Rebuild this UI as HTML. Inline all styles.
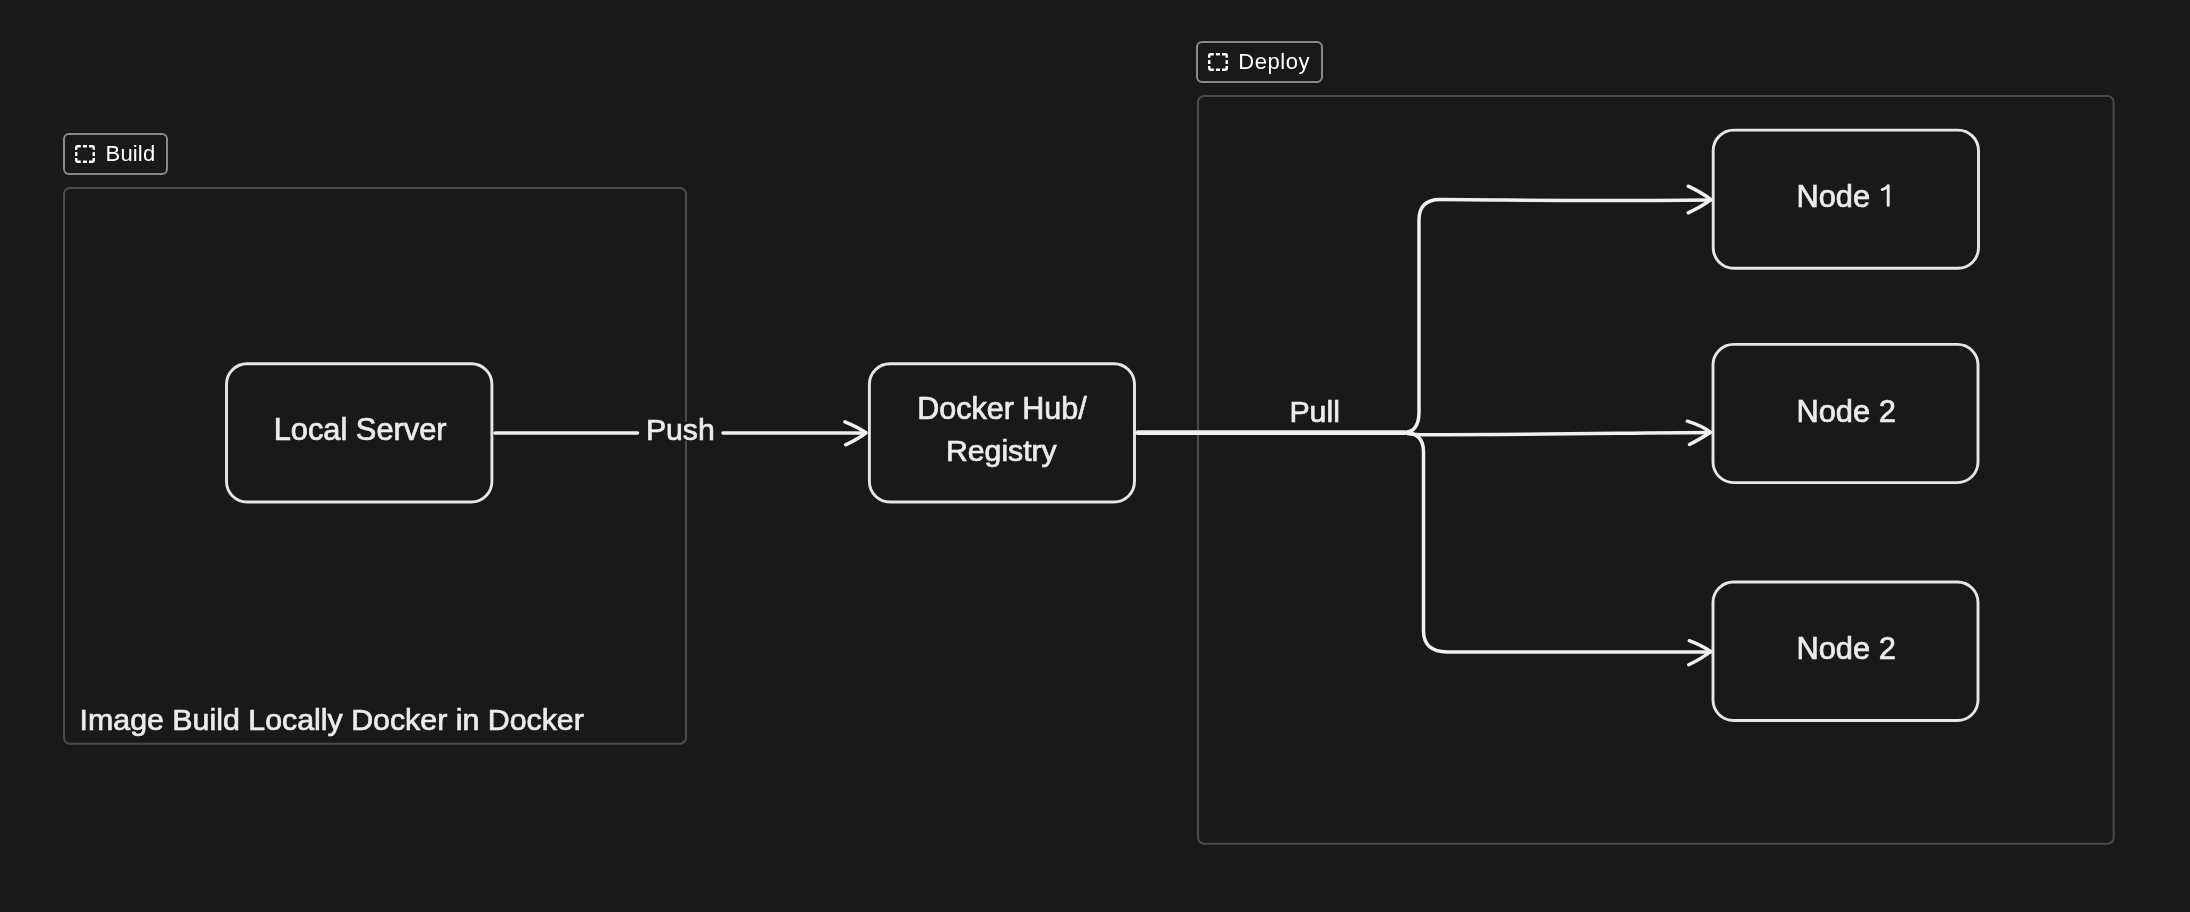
<!DOCTYPE html>
<html>
<head>
<meta charset="utf-8">
<style>
html,body{margin:0;padding:0;background:#191919;}
body{width:2190px;height:912px;overflow:hidden;position:relative;}
svg{position:absolute;left:0;top:0;will-change:transform;}
text{font-family:"Liberation Sans",sans-serif;}
</style>
</head>
<body>
<svg width="2190" height="912" viewBox="0 0 2190 912">
  <rect x="0" y="0" width="2190" height="912" fill="#191919"/>

  <!-- Frames -->
  <rect x="64" y="188" width="622" height="555.75" rx="6" fill="none" stroke="#4b4c50" stroke-width="2"/>
  <rect x="1198" y="96" width="915.6" height="747.75" rx="6" fill="none" stroke="#4b4c50" stroke-width="2"/>

  <!-- Frame labels -->
  <g id="lbl-build">
    <rect x="64" y="134" width="103" height="40" rx="5" fill="none" stroke="#8a8a8a" stroke-width="2"/>
    <g fill="none" stroke="#ffffff" stroke-width="2.4">
      <path d="M80.8 146.25H77.45Q76.25 146.25 76.25 147.45V149.8"/>
      <path d="M82.9 146.25H87"/>
      <path d="M89 146.25H92.55Q93.75 146.25 93.75 147.45V149.8"/>
      <path d="M93.75 152.1V156"/>
      <path d="M93.75 158.1V160.55Q93.75 161.75 92.55 161.75H89"/>
      <path d="M82.9 161.75H87"/>
      <path d="M80.8 161.75H77.45Q76.25 161.75 76.25 160.55V158.1"/>
      <path d="M76.25 152.1V156"/>
    </g>
    <text x="105.6" y="161" font-size="22" letter-spacing="0.15" fill="#ffffff">Build</text>
  </g>
  <g id="lbl-deploy">
    <rect x="1197" y="42" width="125" height="40" rx="5" fill="none" stroke="#8a8a8a" stroke-width="2"/>
    <g fill="none" stroke="#ffffff" stroke-width="2.4" transform="translate(1133,-92)">
      <path d="M80.8 146.25H77.45Q76.25 146.25 76.25 147.45V149.8"/>
      <path d="M82.9 146.25H87"/>
      <path d="M89 146.25H92.55Q93.75 146.25 93.75 147.45V149.8"/>
      <path d="M93.75 152.1V156"/>
      <path d="M93.75 158.1V160.55Q93.75 161.75 92.55 161.75H89"/>
      <path d="M82.9 161.75H87"/>
      <path d="M80.8 161.75H77.45Q76.25 161.75 76.25 160.55V158.1"/>
      <path d="M76.25 152.1V156"/>
    </g>
    <text x="1238.2" y="69" font-size="22" letter-spacing="0.55" fill="#ffffff">Deploy</text>
  </g>

  <!-- Boxes -->
  <g fill="none" stroke="#e6e6e6" stroke-width="2.9">
    <rect x="226.5" y="363.8" width="265.4" height="138.2" rx="20.5"/>
    <rect x="869.4" y="363.8" width="265.1" height="138.2" rx="20.5"/>
    <rect x="1713.2" y="130.1" width="265.3" height="138.1" rx="20.5"/>
    <rect x="1713" y="344.4" width="265" height="138.2" rx="20.5"/>
    <rect x="1713" y="582" width="265" height="138.5" rx="20.5"/>
  </g>

  <!-- Arrows -->
  <g fill="none" stroke="#f0f0f0" stroke-width="3.5" stroke-linecap="round" stroke-linejoin="round">
    <path d="M495 433H637.5"/>
    <path d="M723 433H865.5"/>
    <path d="M844.9 421.8Q858.0 427.1 866 432.8M845.6 444.8Q858.2 438.9 866 432.8"/>

    <path d="M1137 432.8H1405" stroke-width="4.6" stroke-linecap="butt"/>
    <path d="M1137 432.2H1405C1414 432.5 1419 425 1419 412V220Q1419 199.5 1440 199.5C1520 199.8 1560 201.5 1710.6 200"/>
    <path d="M1688.2 186.2Q1702.3 192.9 1710.9 199.6M1688.2 212.8Q1702.3 206.2 1710.9 199.6"/>
    <path d="M1137 432.7H1405Q1410 434.6 1420 434.8C1560 434.8 1640 432.5 1710.3 432.4"/>
    <path d="M1687.3 421.2Q1701.6 425.6 1710.3 432.2M1689.5 444.5Q1702.4 437.7 1710.3 432.2"/>
    <path d="M1136 432.8H1405Q1423.5 432.8 1423.5 452V631C1423.5 645 1432 651.9 1447 651.9H1710.6"/>
    <path d="M1689.3 640.7Q1702.5 645.8 1710.6 651.5M1688.7 664.8Q1702.3 658.2 1710.6 651.5"/>
  </g>

  <rect x="684.4" y="421.8" width="3.2" height="18.7" fill="#191919"/>
  <!-- Text -->
  <g font-size="30.8" fill="#ececec" stroke="#ececec" stroke-width="0.7">
    <text x="273.7" y="440">Local Server</text>
    <text x="645.9" y="439.6" font-size="30.2">Push</text>
    <text x="917.2" y="419" font-size="30.5">Docker Hub/</text>
    <text x="946" y="460.5" font-size="30.2">Registry</text>
    <text x="1289.4" y="421.5" font-size="30.3">Pull</text>
    <text x="1796.5" y="206.5">Node</text>
    <path d="M1882.2 189.6Q1886.3 188.4 1888.2 185.6V205.4" fill="none" stroke-width="2.9" stroke-linecap="round" stroke-linejoin="round"/>
    <text x="1796.5" y="421.5">Node 2</text>
    <text x="1796.5" y="659.3">Node 2</text>
    <text x="79.6" y="730.3" font-size="30.35">Image Build Locally Docker in Docker</text>
  </g>
</svg>
</body>
</html>
